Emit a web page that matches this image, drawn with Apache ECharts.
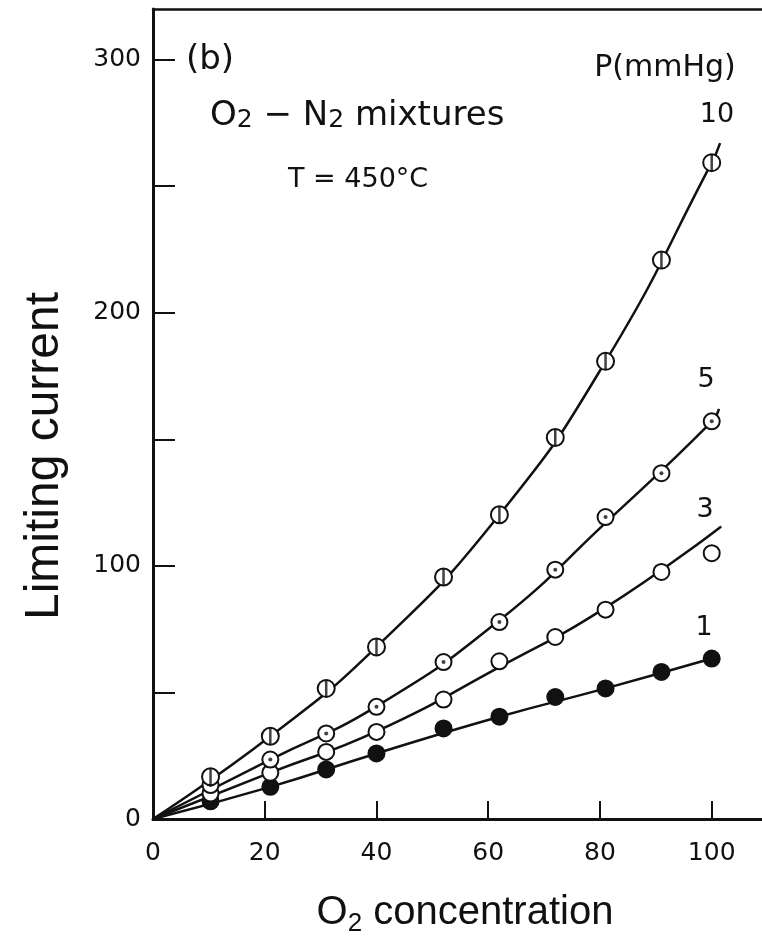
<!DOCTYPE html>
<html>
<head>
<meta charset="utf-8">
<script src="https://cdn.jsdelivr.net/npm/echarts@6.0.0/dist/echarts.min.js"></script>
<style>
  html, body { margin: 0; padding: 0; background: #fff; }
  #chart { width: 762px; height: 945px; }
</style>
</head>
<body>
<div id="chart"></div>
<script>
// O2 concentration (%) of the measured points
var o2Conc = [10.3, 21, 31, 40, 52, 62, 72, 81, 91, 100];

// limiting current read for each pressure (mmHg)
var p10 = [16.7, 32.7, 51.6, 68, 95.6, 120.2, 150.7, 180.8, 220.8, 259.3];
var p5  = [13.4, 23.5, 33.8, 44.3, 62.0, 77.8, 98.5, 119.3, 136.6, 157.1];
var p3  = [10.1, 18.3, 26.5, 34.4, 47.2, 62.3, 71.9, 82.7, 97.6, 105.0];
var p1  = [7.0, 12.7, 19.6, 25.9, 35.8, 40.4, 48.2, 51.6, 58.1, 63.4];

// drawn fit curves, read at a few places along each line
var c10x = [0, 21, 40, 62, 81, 100, 101.5];
var c10y = [0, 32.7, 68, 120.2, 180.8, 259.3, 267];
var c5x = [0, 21, 40, 62, 81, 100, 101.3];
var c5y = [0, 23.5, 44.5, 78.5, 117, 157, 162];
var c3x = [0, 21, 40, 62, 81, 101.7];
var c3y = [0, 18.3, 34.6, 60, 83.5, 115.6];
var c1x = [0, 21, 40, 62, 81, 100];
var c1y = [0, 12.7, 25.9, 40.4, 51.6, 63.4];

var xTicks = [0, 20, 40, 60, 80, 100];
var yTicks = [0, 50, 100, 150, 200, 250, 300];
var yLabels = [0, 100, 200, 300];

function pairs(xs, ys) {
  var out = [];
  for (var i = 0; i < xs.length; i++) out.push([xs[i], ys[i]]);
  return out;
}

var FONT = 'DejaVu Sans';
var INK = '#111';

function curve(name, xs, ys) {
  return {
    name: name, type: 'line', data: pairs(xs, ys),
    smooth: 0.5, showSymbol: false, symbol: 'none',
    lineStyle: { color: INK, width: 2.5 }, z: 2, silent: true
  };
}
function marks(name, ys, fill, symbol, size, z) {
  return {
    name: name, type: 'scatter', data: pairs(o2Conc, ys),
    symbol: symbol || 'circle', symbolSize: size || 16,
    itemStyle: { color: fill, borderColor: INK, borderWidth: 2, opacity: 1 },
    z: z || 3, silent: true
  };
}

var myChart = echarts.init(document.getElementById('chart'));

var option = {
  backgroundColor: '#fff',
  animation: false,
  grid: { left: 153, top: 9, right: 0, bottom: 126, containLabel: false },
  xAxis: [{
    type: 'value', min: 0, max: 109, interval: 20,
    axisLine: { show: true, onZero: false, lineStyle: { color: INK, width: 3 } },
    axisTick: { show: true, inside: true, length: 18, customValues: xTicks,
      lineStyle: { color: INK, width: 2 } },
    axisLabel: { customValues: xTicks, margin: 22, color: INK,
      fontFamily: FONT, fontSize: 25 },
    splitLine: { show: false }
  }, {
    type: 'value', position: 'top', min: 0, max: 109,
    axisLine: { show: true, onZero: false, lineStyle: { color: INK, width: 2.5 } },
    axisTick: { show: false }, axisLabel: { show: false }, splitLine: { show: false }
  }],
  yAxis: {
    type: 'value', min: 0, max: 320, interval: 50,
    axisLine: { show: true, onZero: false, lineStyle: { color: INK, width: 3 } },
    axisTick: { show: true, inside: true, length: 22, customValues: yTicks,
      lineStyle: { color: INK, width: 2 } },
    axisLabel: { customValues: yLabels, margin: 12, color: INK,
      fontFamily: FONT, fontSize: 25 },
    splitLine: { show: false }
  },
  series: [
    curve('10 curve', c10x, c10y),
    curve('5 curve', c5x, c5y),
    curve('3 curve', c3x, c3y),
    curve('1 curve', c1x, c1y),
    marks('1 mmHg', p1, INK, 'circle', 16, 3),
    marks('3 mmHg', p3, '#fff', 'circle', 16, 4),
    marks('5 mmHg', p5, '#fff', 'circle', 16, 5),
    { name: '5 dot', type: 'scatter', data: pairs(o2Conc, p5), symbol: 'circle',
      symbolSize: 4, itemStyle: { color: INK }, z: 6, silent: true },
    marks('10 mmHg', p10, '#fff', 'circle', 17, 7),
    { name: '10 bar', type: 'scatter', data: pairs(o2Conc, p10), symbol: 'rect',
      symbolSize: [2.5, 17], itemStyle: { color: INK }, z: 8, silent: true }
  ],
  graphic: [
    { type: 'text', x: 45, y: 456, rotation: Math.PI / 2,
      style: { text: 'Limiting current', font: '48px "Liberation Sans"', fill: INK,
        textAlign: 'center', textVerticalAlign: 'middle' } },
    { type: 'text', x: 465, y: 913,
      style: { text: '{b|O}{s|2}{b| concentration}', fill: INK,
        textAlign: 'center', textVerticalAlign: 'middle',
        rich: {
          b: { fontFamily: 'Liberation Sans', fontSize: 40, fill: INK },
          s: { fontFamily: 'Liberation Sans', fontSize: 26, fill: INK,
            padding: [22, 0, 0, 0], verticalAlign: 'bottom' }
        } } },
    { type: 'text', x: 186, y: 60,
      style: { text: '(b)', font: '34px "DejaVu Sans"', fill: INK,
        textVerticalAlign: 'middle' } },
    { type: 'text', x: 210, y: 116,
      style: { text: '{a|O}{s|2}{a| − N}{s|2}{a| mixtures}', fill: INK,
        textVerticalAlign: 'middle',
        rich: {
          a: { fontFamily: FONT, fontSize: 34, fill: INK },
          s: { fontFamily: FONT, fontSize: 25, fill: INK, padding: [9, 0, 0, 0] }
        } } },
    { type: 'text', x: 288, y: 180,
      style: { text: 'T = 450°C', font: '27px "DejaVu Sans"', fill: INK,
        textVerticalAlign: 'middle' } },
    { type: 'text', x: 665, y: 68,
      style: { text: 'P(mmHg)', font: '30px "DejaVu Sans"', fill: INK,
        textAlign: 'center', textVerticalAlign: 'middle' } },
    { type: 'text', x: 717, y: 115,
      style: { text: '10', font: '27px "DejaVu Sans"', fill: INK,
        textAlign: 'center', textVerticalAlign: 'middle' } },
    { type: 'text', x: 706, y: 380,
      style: { text: '5', font: '27px "DejaVu Sans"', fill: INK,
        textAlign: 'center', textVerticalAlign: 'middle' } },
    { type: 'text', x: 705, y: 510,
      style: { text: '3', font: '27px "DejaVu Sans"', fill: INK,
        textAlign: 'center', textVerticalAlign: 'middle' } },
    { type: 'text', x: 704, y: 628,
      style: { text: '1', font: '27px "DejaVu Sans"', fill: INK,
        textAlign: 'center', textVerticalAlign: 'middle' } }
  ]
};

myChart.setOption(option);
</script>
</body>
</html>
